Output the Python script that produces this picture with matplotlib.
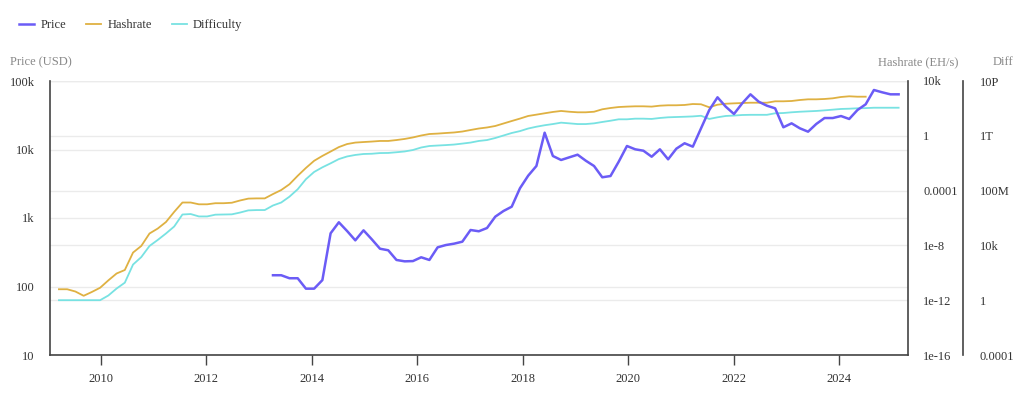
import matplotlib
matplotlib.use("Agg")
import matplotlib.pyplot as plt
import matplotlib.dates as mdates
import pandas as pd

plt.rcParams['font.family'] = ['Liberation Serif', 'DejaVu Serif']

# sample dates (roughly every 57 days)
dates = pd.date_range("2009-03-16", periods=103, freq="57D")

# price in USD, starts at sample 26
price = [146, 146, 132, 132, 93, 93, 124, 598, 866, 646,
         472, 661, 489, 356, 338, 244, 233, 235, 267, 244,
         373, 403, 422, 451, 668, 640, 714, 1045, 1265, 1462,
         2715, 4146, 5744, 17600, 8040, 7030, 7690, 8400, 6860, 5744,
         3930, 4100, 6640, 11250, 10070, 9600, 7850, 10070, 7190, 10280,
         12330, 11000, 20400, 37700, 57800, 42200, 33000, 47200, 63900, 49900,
         43600, 39900, 21100, 24100, 20400, 18200, 23600, 28800, 28800, 30800,
         27900, 37700, 45700, 73900, 68400, 63900, 63900]

# hashrate in EH/s
hashrate = [6.3e-12, 6.3e-12, 4.3e-12, 2.1e-12, 4e-12, 8.1e-12, 2.8e-11, 8.9e-11, 1.6e-10, 3.0e-9,
            9.1e-9, 7.4e-8, 1.7e-7, 5.1e-7, 2.8e-6, 1.35e-5, 1.35e-5, 1.0e-5, 1.0e-5, 1.2e-5,
            1.2e-5, 1.3e-5, 1.9e-5, 2.6e-5, 2.7e-5, 2.7e-5, 5.6e-5, 1.1e-4, 2.9e-4, 1.2e-3,
            4.5e-3, 0.015, 0.034, 0.071, 0.15, 0.25, 0.32, 0.35, 0.38, 0.42,
            0.42, 0.49, 0.59, 0.76, 1.05, 1.35, 1.45, 1.6, 1.75, 2.05,
            2.65, 3.4, 4.05, 5.2, 7.9, 12, 18, 28, 35, 44,
            55, 65, 57, 52, 52, 57, 86, 107, 126, 135,
            142, 142, 135, 158, 169, 169, 178, 209, 200, 120,
            186, 219, 234, 247, 260, 260, 260, 330, 330, 347,
            410, 460, 460, 487, 545, 680, 765, 715, 715]

difficulty = [1, 1, 1, 1, 1, 1, 2.2, 7.1, 19, 400,
              1400, 9100, 25000, 74000, 2.4e5, 1.8e6, 1.95e6, 1.3e6, 1.3e6, 1.75e6,
              1.8e6, 1.85e6, 2.5e6, 3.6e6, 3.8e6, 3.8e6, 8.2e6, 1.35e7, 3.6e7, 1.25e8,
              6.8e8, 2.3e9, 5.0e9, 9.8e9, 2.0e10, 3.1e10, 4.0e10, 4.7e10, 4.9e10, 5.5e10,
              5.6e10, 6.3e10, 7.2e10, 9.2e10, 1.4e11, 1.8e11, 1.95e11, 2.1e11, 2.3e11, 2.7e11,
              3.2e11, 4.2e11, 4.9e11, 6.9e11, 1.05e12, 1.6e12, 2.2e12, 3.4e12, 4.6e12, 5.9e12,
              7.2e12, 9.1e12, 8.1e12, 7.2e12, 7.2e12, 8.1e12, 1.02e13, 1.26e13, 1.6e13, 1.6e13,
              1.78e13, 1.78e13, 1.7e13, 2.0e13, 2.24e13, 2.35e13, 2.46e13, 2.6e13, 2.9e13, 1.7e13,
              2.24e13, 2.8e13, 3.0e13, 3.3e13, 3.4e13, 3.4e13, 3.4e13, 4.4e13, 4.6e13, 5.2e13,
              5.7e13, 6.1e13, 6.5e13, 7.2e13, 8.1e13, 9.1e13, 9.5e13, 1.02e14, 1.05e14, 1.12e14,
              1.12e14, 1.12e14, 1.12e14]

price_ticks = [10, 100, 1e3, 1e4, 1e5]
price_labels = ["10", "100", "1k", "10k", "100k"]
hash_ticks = [1e-16, 1e-12, 1e-8, 1e-4, 1, 1e4]
hash_labels = ["1e-16", "1e-12", "1e-8", "0.0001", "1", "10k"]
diff_ticks = [1e-4, 1, 1e4, 1e8, 1e12, 1e16]
diff_labels = ["0.0001", "1", "10k", "100M", "1T", "10P"]

c_price = "#6b5cf6"
c_hash = "#dfb142"
c_diff = "#78e2e2"
axis_col = "#444444"
text_col = "#333333"
grid_col = "#ebebeb"

rect = [50 / 1024, 1 - 355 / 399, 858 / 1024, 274 / 399]
fig = plt.figure(figsize=(10.24, 3.99), dpi=100)

# grid-only axes at the back, so grid lines sit under every series
gax = fig.add_axes(rect, zorder=0)
gax.set_yscale("log")
gax.set_ylim(10, 1e5)
gax.set_yticks(price_ticks)
gax.minorticks_off()
gax.grid(axis="y", color=grid_col, lw=1)
gax.tick_params(left=False, labelleft=False, bottom=False, labelbottom=False)
for s in gax.spines.values():
    s.set_visible(False)

ax = fig.add_axes(rect, zorder=3)
ax2 = ax.twinx()
ax3 = ax.twinx()
ax2.set_zorder(1)
ax3.set_zorder(2)
for a in (ax, ax2, ax3):
    a.patch.set_visible(False)

l2, = ax2.plot(dates[:len(hashrate)], hashrate, color=c_hash, lw=1.3, label="Hashrate")
l3, = ax3.plot(dates[:len(difficulty)], difficulty, color=c_diff, lw=1.3, label="Difficulty")
l1, = ax.plot(dates[len(dates) - len(price):], price, color=c_price, lw=1.8, label="Price")

ax.set_yscale("log")
ax.set_ylim(10, 1e5)
ax.set_yticks(price_ticks)
ax.set_yticklabels(price_labels)
ax.minorticks_off()

ax2.set_yscale("log")
ax2.set_ylim(1e-16, 1e4)
ax2.set_yticks(hash_ticks)
ax2.set_yticklabels(hash_labels)
ax2.minorticks_off()
ax2.grid(axis="y", color=grid_col, lw=1)

ax3.set_yscale("log")
ax3.set_ylim(1e-4, 1e16)
ax3.set_yticks(diff_ticks)
ax3.set_yticklabels(diff_labels)
ax3.minorticks_off()
ax3.spines["right"].set_position(("axes", 913 / 858))

ax.set_xlim(pd.Timestamp("2009-01-13"), pd.Timestamp("2025-04-20"))
ax.xaxis.set_major_locator(mdates.YearLocator(2))
ax.xaxis.set_major_formatter(mdates.DateFormatter("%Y"))

for a in (ax, ax2, ax3):
    for s in a.spines.values():
        s.set_visible(False)
ax.spines["left"].set_visible(True)
ax.spines["bottom"].set_visible(True)
ax2.spines["right"].set_visible(True)
ax3.spines["right"].set_visible(True)
for s in (ax.spines["left"], ax.spines["bottom"], ax2.spines["right"], ax3.spines["right"]):
    s.set_color(axis_col)
    s.set_linewidth(1.2)

ax.tick_params(axis="y", length=0, pad=11, labelsize=9, labelcolor=text_col)
ax2.tick_params(axis="y", length=0, pad=11, labelsize=9, labelcolor=text_col)
ax3.tick_params(axis="y", length=0, pad=12, labelsize=9, labelcolor=text_col)
ax.tick_params(axis="x", length=7, width=1, color=axis_col, pad=6, labelsize=9, labelcolor=text_col)

fig.text(10 / 1024, 1 - 62 / 399, "Price (USD)", ha="left", va="center", fontsize=9, color="#888888")
fig.text(958 / 1024, 1 - 62 / 399, "Hashrate (EH/s)", ha="right", va="center", fontsize=9, color="#888888")
fig.text(1003 / 1024, 1 - 62 / 399, "Diff", ha="center", va="center", fontsize=9, color="#888888")

fig.legend([l1, l2, l3], ["Price", "Hashrate", "Difficulty"], loc="center left",
           bbox_to_anchor=(8 / 1024, 1 - 25 / 399), ncol=3, frameon=False, fontsize=9,
           handlelength=1.2, handletextpad=0.5, columnspacing=1.6, labelcolor=text_col)

fig.savefig("out.png", dpi=100)
